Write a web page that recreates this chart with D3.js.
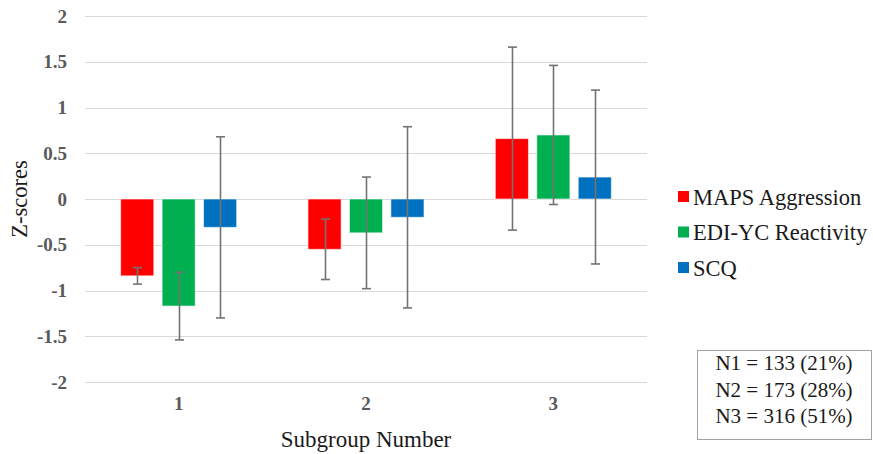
<!DOCTYPE html>
<html>
<head>
<meta charset="utf-8">
<script src="https://cdn.jsdelivr.net/npm/d3@7"></script>
<style>
  body { margin: 0; background: #fff; }
  svg { display: block; }
</style>
</head>
<body>
<div id="chart"></div>
<script>
// data
var groups = ["1", "2", "3"];
var seriesNames = ["MAPS Aggression", "EDI-YC Reactivity", "SCQ"];
var seriesColors = ["#FF0000", "#00B050", "#0070C0"];
var mapsValues = [-0.84, -0.55, 0.66];
var ediValues = [-1.17, -0.37, 0.70];
var scqValues = [-0.31, -0.20, 0.24];
var mapsErr = [0.09, 0.33, 1.00];
var ediErr = [0.37, 0.61, 0.76];
var scqErr = [0.99, 0.99, 0.95];
var yTicks = [-2, -1.5, -1, -0.5, 0, 0.5, 1, 1.5, 2];
var sampleNotes = ["N1 = 133 (21%)", "N2 = 173 (28%)", "N3 = 316 (51%)"];

var values = [mapsValues, ediValues, scqValues];
var errors = [mapsErr, ediErr, scqErr];

var rows = [];
groups.forEach(function(g, gi) {
	seriesNames.forEach(function(s, si) {
		rows.push({ group: g, series: s, si: si, value: values[si][gi], err: errors[si][gi] });
	});
});

var width = 873,
	height = 454;

var svg = d3.select("#chart")
	.append("svg")
	.attr("width", width)
	.attr("height", height);

var plotLeft = 85, plotRight = 647, plotTop = 16, plotBottom = 382;

var x = d3.scaleBand()
	.domain(groups)
	.range([plotLeft, plotRight]);

var xInner = d3.scaleBand()
	.domain(seriesNames)
	.range([0, x.bandwidth()])
	.paddingInner(0.2)
	.paddingOuter(0.86);

var y = d3.scaleLinear()
	.domain([-2, 2])
	.range([plotBottom, plotTop]);

var serif = "'Liberation Serif', 'Times New Roman', serif";

// grid lines
svg.append("g")
	.selectAll("line")
	.data(yTicks)
	.enter()
	.append("line")
	.attr("x1", plotLeft)
	.attr("x2", plotRight)
	.attr("y1", function(d) { return Math.round(y(d)) + 0.5; })
	.attr("y2", function(d) { return Math.round(y(d)) + 0.5; })
	.attr("stroke", "#d9d9d9")
	.attr("stroke-width", 1.2);

// y axis labels
var yAxis = svg.append("g")
	.attr("transform", "translate(" + plotLeft + ",0)")
	.call(d3.axisLeft(y).tickValues(yTicks).tickSize(0).tickPadding(18).tickFormat(function(d) { return String(d); }));
yAxis.select(".domain").remove();
yAxis.selectAll("text")
	.attr("font-family", serif)
	.attr("font-size", "19px")
	.attr("font-weight", "bold")
	.attr("fill", "#595959");

// x axis labels
var xAxis = svg.append("g")
	.attr("transform", "translate(0," + plotBottom + ")")
	.call(d3.axisBottom(x).tickSize(0).tickPadding(15));
xAxis.select(".domain").remove();
xAxis.selectAll("text")
	.attr("font-family", serif)
	.attr("font-size", "19px")
	.attr("font-weight", "bold")
	.attr("fill", "#595959");

// bars
svg.append("g")
	.selectAll("rect")
	.data(rows)
	.enter()
	.append("rect")
	.attr("x", function(d) { return x(d.group) + xInner(d.series); })
	.attr("y", function(d) { return y(Math.max(0, d.value)); })
	.attr("width", xInner.bandwidth())
	.attr("height", function(d) { return Math.abs(y(d.value) - y(0)); })
	.attr("fill", function(d) { return seriesColors[d.si]; })
	.attr("stroke", "rgba(255,255,255,0.6)")
	.attr("stroke-width", 1);

// error bars
var eb = svg.append("g")
	.selectAll("g")
	.data(rows)
	.enter()
	.append("g")
	.attr("stroke", "#737373")
	.attr("stroke-width", 1.6);

var cx = function(d) { return Math.round(x(d.group) + xInner(d.series) + xInner.bandwidth() / 2) + 0.5; };

eb.append("line")
	.attr("x1", cx).attr("x2", cx)
	.attr("y1", function(d) { return y(d.value + d.err); })
	.attr("y2", function(d) { return y(d.value - d.err); });
eb.append("line")
	.attr("x1", function(d) { return cx(d) - 4.5; })
	.attr("x2", function(d) { return cx(d) + 4.5; })
	.attr("y1", function(d) { return y(d.value + d.err); })
	.attr("y2", function(d) { return y(d.value + d.err); });
eb.append("line")
	.attr("x1", function(d) { return cx(d) - 4.5; })
	.attr("x2", function(d) { return cx(d) + 4.5; })
	.attr("y1", function(d) { return y(d.value - d.err); })
	.attr("y2", function(d) { return y(d.value - d.err); });

// axis titles
svg.append("text")
	.text("Z-scores")
	.attr("transform", "translate(27," + y(0) + ") rotate(-90)")
	.attr("text-anchor", "middle")
	.attr("font-family", serif)
	.attr("font-size", "22.5px")
	.attr("fill", "#1a1a1a");

svg.append("text")
	.text("Subgroup Number")
	.attr("x", (plotLeft + plotRight) / 2)
	.attr("y", 447)
	.attr("text-anchor", "middle")
	.attr("font-family", serif)
	.attr("font-size", "23px")
	.attr("fill", "#1a1a1a");

// legend
var legend = svg.append("g")
	.selectAll("g")
	.data(seriesNames)
	.enter()
	.append("g")
	.attr("transform", function(d, i) { return "translate(678," + (197 + i * 35.5) + ")"; });

legend.append("rect")
	.attr("x", 0)
	.attr("y", -6)
	.attr("width", 11)
	.attr("height", 11)
	.attr("fill", function(d, i) { return seriesColors[i]; });

legend.append("text")
	.text(function(d) { return d; })
	.attr("x", 15)
	.attr("y", 7.5)
	.attr("font-family", serif)
	.attr("font-size", "22.5px")
	.attr("fill", "#1a1a1a");

// sample size box
svg.append("rect")
	.attr("x", 697.5)
	.attr("y", 350.5)
	.attr("width", 174)
	.attr("height", 89)
	.attr("fill", "none")
	.attr("stroke", "#444")
	.attr("stroke-width", 1)
	.attr("stroke-dasharray", "1,1");

svg.append("g")
	.selectAll("text")
	.data(sampleNotes)
	.enter()
	.append("text")
	.text(function(d) { return d; })
	.attr("x", 784)
	.attr("y", function(d, i) { return 370 + i * 26.5; })
	.attr("text-anchor", "middle")
	.attr("font-family", serif)
	.attr("font-size", "21px")
	.attr("fill", "#1a1a1a");
</script>
</body>
</html>
